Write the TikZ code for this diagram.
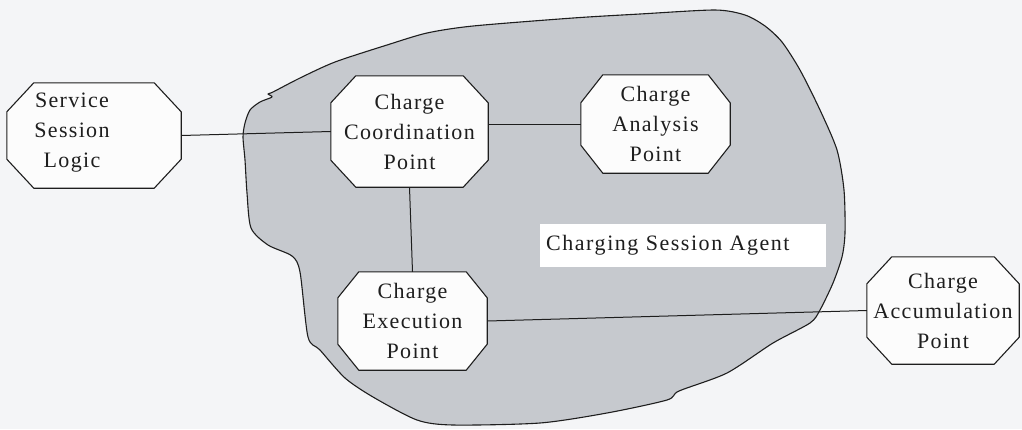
\documentclass[tikz,border=0pt]{standalone}
\usepackage{fontspec}
\setmainfont{Liberation Serif}[LetterSpace=6]
\usetikzlibrary{calc}
\pgfdeclarelayer{blob}
\pgfdeclarelayer{shapes}
\pgfsetlayers{blob,shapes,main}
\definecolor{paper}{RGB}{244,245,247}
\definecolor{agentgrey}{RGB}{198,201,206}
\definecolor{boxwhite}{RGB}{252,252,252}
\definecolor{ink}{RGB}{30,30,30}
% outline of an octagonal box around the rectangle node #1, corner cut #2 x #3
\newcommand\octagonbox[3]{%
  \begin{pgfonlayer}{shapes}
    \path[octline] ($(#1.north west)+(#2,0)$) -- ($(#1.north east)+(-#2,0)$)
      -- ($(#1.north east)+(0,#3)$) -- ($(#1.south east)+(0,-#3)$)
      -- ($(#1.south east)+(-#2,0)$) -- ($(#1.south west)+(#2,0)$)
      -- ($(#1.south west)+(0,-#3)$) -- ($(#1.north west)+(0,#3)$) -- cycle;
  \end{pgfonlayer}}
\tikzset{
  octline/.style={draw=ink, fill=boxwhite, line width=1.1pt, line join=miter},
  unit/.style={inner sep=0pt, align=center, font=\fontsize{22}{30}\selectfont, text=ink},
  link/.style={draw=ink, line width=1pt},
}
\begin{document}
\begin{tikzpicture}[x=1pt, y=-1pt]
  \begin{pgfonlayer}{blob}
    \fill[paper] (0,0) rectangle (1022,429);
    % the agent region
    \draw[fill=agentgrey, draw=ink, line width=1.1pt, line join=round]
      plot[smooth cycle, tension=0.45] coordinates {
        (243,137) (245,123) (250,110) (260,102) (272,97) (268,94) (273,92)
        (300,78) (335,62) (387,45) (427,33) (473,26) (573,18) (640,14)
        (715,10) (745,15) (765,26) (782,42) (800,70) (820,110) (837,150)
        (844,190) (845,233) (842,257) (833,283) (820,310) (810,323)
        (773,343) (727,373) (679,391) (667,400) (607,413) (540,423)
        (453,425) (417,420) (373,397) (345,378) (320,350)
        (308,337) (300,272) (292,256) (268,245) (251,228)
        (247,193) (245,160)};
  \end{pgfonlayer}

  % boxes
  \node[unit, minimum width=174pt, minimum height=105pt] (ssl) at (94,135.5) {};
  \node[unit] (ssltext) at (72,133) {Service\\Session\\Logic};
  \node[unit, minimum width=157pt, minimum height=111pt] (ccp) at (409.5,131.5) {Charge\\Coordination\\Point};
  \node[unit, minimum width=149pt, minimum height=98pt] (cap) at (655.5,124) {Charge\\Analysis\\Point};
  \node[unit, minimum width=149pt, minimum height=98pt] (cep) at (412.5,321) {Charge\\Execution\\Point};
  \node[unit, minimum width=152pt, minimum height=107pt] (cacc) at (943,310.5) {Charge\\Accumulation\\Point};

  \octagonbox{ssl}{27}{29}
  \octagonbox{ccp}{25}{27}
  \octagonbox{cap}{22}{28}
  \octagonbox{cep}{21}{26}
  \octagonbox{cacc}{25}{27}

  % region label
  \node[fill=white, inner xsep=6pt, inner ysep=0pt, minimum height=43pt,
        text width=274pt, align=left, anchor=north west,
        font=\fontsize{22}{26}\selectfont\addfontfeature{LetterSpace=7}, text=ink] (agent) at (540,224)
        {Charging Session Agent};

  % connectors
  \draw[link] (ssl.east) -- (ccp.west);
  \draw[link] (ccp.east |- cap.west) -- (cap.west);
  \draw[link] (ccp.south) -- (cep.north);
  \draw[link] (cep.east) -- (cacc.west);
\end{tikzpicture}
\end{document}
